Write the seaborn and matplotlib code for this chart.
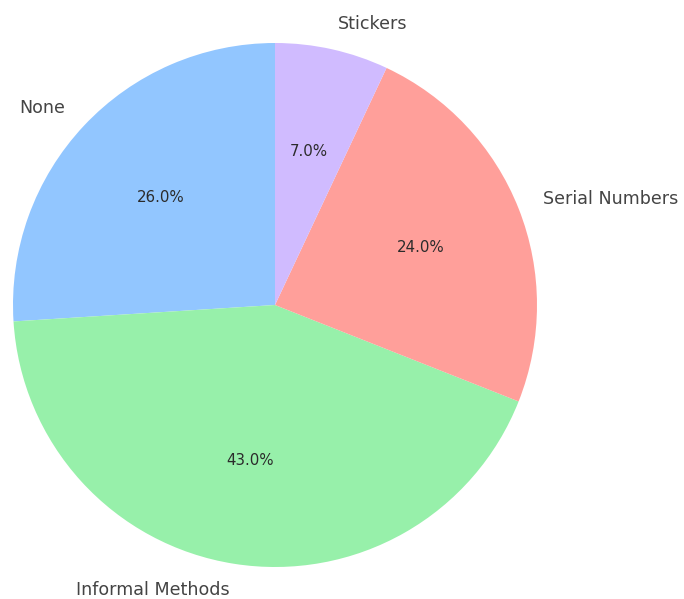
import matplotlib
matplotlib.use("Agg")
import matplotlib.pyplot as plt
import seaborn as sns

# Share of respondents by asset-tracking method
methods = ["None", "Informal Methods", "Serial Numbers", "Stickers"]
shares = [26.0, 43.0, 24.0, 7.0]
colors = ["#92C6FF", "#97F0AA", "#FF9F9A", "#D0BBFF"]

sns.set_theme(style="white")
plt.rcParams["font.family"] = ["DejaVu Sans"]

fig = plt.figure(figsize=(6.84, 5.99), dpi=100)
r = 262
cx, cy = 275, 305
ax = fig.add_axes([(cx - r) / 684, 1 - (cy + r) / 599, 2 * r / 684, 2 * r / 599])

wedges, texts, autotexts = ax.pie(
    shares,
    labels=methods,
    colors=colors,
    autopct="%1.1f%%",
    startangle=90,
    counterclock=True,
    wedgeprops={"edgecolor": "none", "linewidth": 0},
    textprops={"fontsize": 12.6, "color": "#444444"},
)
for t in autotexts:
    t.set_fontsize(10.8)
    t.set_color("#2b2b2b")

ax.set_xlim(-1, 1)
ax.set_ylim(-1, 1)
ax.set_aspect("auto")
ax.axis("off")

fig.savefig("out.png", dpi=100)
